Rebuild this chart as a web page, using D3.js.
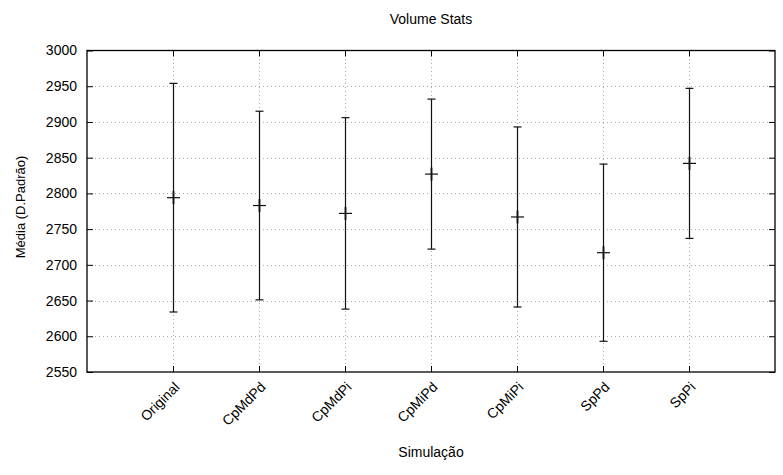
<!DOCTYPE html>
<html><head><meta charset="utf-8">
<script src="https://cdn.jsdelivr.net/npm/d3@7/dist/d3.min.js"></script>
<style>body{margin:0;background:#fff}text{font-family:"Liberation Sans",Arial,sans-serif;}</style>
</head><body>
<script>
const categories = ["Original","CpMdPd","CpMdPi","CpMiPd","CpMiPi","SpPd","SpPi"];
const means = [2794, 2783, 2772, 2827, 2767, 2717, 2842];
const stdDevs = [160, 132, 134, 105, 126, 124, 105];
const yTicks = [2550,2600,2650,2700,2750,2800,2850,2900,2950,3000];

const W = 783, H = 475;
const m = {l:87, r:8, t:50.5, b:103};
const svg = d3.select("body").append("svg").attr("width",W).attr("height",H);
const x = d3.scaleLinear().domain([0, categories.length+1]).range([m.l, W-m.r]);
const y = d3.scaleLinear().domain([2550,3000]).range([H-m.b, m.t]);
const x0=m.l, x1=W-m.r, y0=H-m.b, y1=m.t;
const FF = "Liberation Sans, Arial, sans-serif";

// grid
const g = svg.append("g");
g.selectAll(".hg").data(yTicks.filter(v=>v>2550&&v<3000)).join("line")
  .attr("x1",x0).attr("x2",x1).attr("y1",d=>Math.round(y(d))+0.5).attr("y2",d=>Math.round(y(d))+0.5)
  .attr("stroke","#aaa").attr("stroke-width",1).attr("stroke-dasharray","1,3");
g.selectAll(".vg").data(categories).join("line")
  .attr("x1",(d,i)=>Math.round(x(i+1))+0.5).attr("x2",(d,i)=>Math.round(x(i+1))+0.5).attr("y1",y0).attr("y2",y1)
  .attr("stroke","#aaa").attr("stroke-width",1).attr("stroke-dasharray","1,3");

// axes
const fs = 14;
const yAxL = d3.axisLeft(y).tickValues(yTicks).tickFormat(d3.format("d")).tickSizeInner(-6).tickSizeOuter(0).tickPadding(10);
const yAxR = d3.axisRight(y).tickValues(yTicks).tickSizeInner(-6).tickSizeOuter(0).tickFormat("");
const xAxB = d3.axisBottom(x).tickValues(d3.range(1,categories.length+1)).tickSizeInner(-6).tickSizeOuter(0).tickFormat(d=>categories[d-1]);
const xAxT = d3.axisTop(x).tickValues(d3.range(1,categories.length+1)).tickSizeInner(-6).tickSizeOuter(0).tickFormat("");
const gl = svg.append("g").attr("transform",`translate(${x0},0)`).call(yAxL);
gl.selectAll("text").attr("font-size",fs).attr("fill","#000").attr("font-family",FF);
svg.append("g").attr("transform",`translate(${x1},0)`).call(yAxR);
const gb = svg.append("g").attr("transform",`translate(0,${y0})`).call(xAxB);
gb.selectAll("text").attr("font-size",fs).attr("fill","#000").attr("font-family",FF)
  .attr("text-anchor","end").attr("y",0).attr("dy","0").attr("transform","translate(7,16) rotate(-45)");
svg.append("g").attr("transform",`translate(0,${y1})`).call(xAxT);
svg.selectAll(".domain").remove();
svg.selectAll(".tick line").attr("stroke","#000");
svg.append("rect").attr("x",x0).attr("y",y1).attr("width",x1-x0).attr("height",y0-y1)
  .attr("fill","none").attr("stroke","#000").attr("stroke-width",1.3);

// error bars
const eb = svg.append("g").attr("stroke","#111").attr("stroke-width",1.2);
categories.forEach((c,i)=>{
  const cx = Math.round(x(i+1))+0.5, mu=means[i], sd=stdDevs[i];
  eb.append("line").attr("x1",cx).attr("x2",cx).attr("y1",y(mu-sd)).attr("y2",y(mu+sd));
  eb.append("line").attr("x1",cx-4).attr("x2",cx+4).attr("y1",y(mu-sd)).attr("y2",y(mu-sd));
  eb.append("line").attr("x1",cx-4).attr("x2",cx+4).attr("y1",y(mu+sd)).attr("y2",y(mu+sd));
  eb.append("line").attr("x1",cx-6.5).attr("x2",cx+6.5).attr("y1",y(mu)).attr("y2",y(mu));
  eb.append("line").attr("x1",cx).attr("x2",cx).attr("y1",y(mu)-6.5).attr("y2",y(mu)+6.5).attr("stroke-width",1.8);
});

// labels
svg.append("text").attr("x",(x0+x1)/2).attr("y",24).attr("text-anchor","middle").attr("font-size",fs).text("Volume Stats");
svg.append("text").attr("x",(x0+x1)/2).attr("y",457).attr("text-anchor","middle").attr("font-size",fs).text("Simulação");
svg.append("text").attr("transform",`translate(25,207) rotate(-90)`).attr("text-anchor","middle").attr("font-size",13).text("Média (D.Padrão)");
</script>
</body></html>
